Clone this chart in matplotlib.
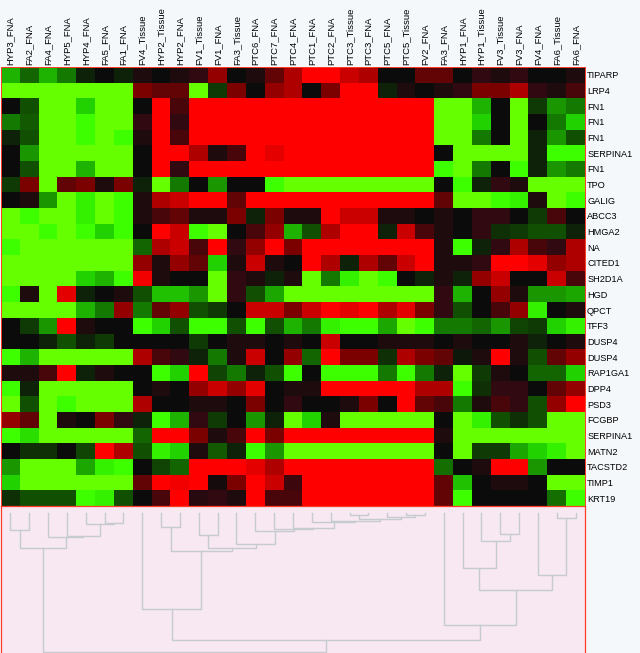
#!/usr/bin/env python3
"""Expression heatmap with the sample dendrogram below it"""

import matplotlib
matplotlib.use('Agg')
import matplotlib.pyplot as plt
from matplotlib.colors import LinearSegmentedColormap
import numpy as np

samples = ['HYP3_FNA', 'FA2_FNA', 'FA4_FNA', 'HYP5_FNA', 'HYP4_FNA', 'FA5_FNA', 'FA1_FNA',
           'FV4_Tissue', 'HYP2_Tissue', 'HYP2_FNA', 'FV1_Tissue', 'FV1_FNA', 'FA3_Tissue',
           'PTC6_FNA', 'PTC7_FNA', 'PTC4_FNA', 'PTC1_FNA', 'PTC2_FNA', 'PTC3_Tissue', 'PTC3_FNA',
           'PTC5_FNA', 'PTC5_Tissue', 'FV2_FNA', 'FA3_FNA', 'HYP1_FNA', 'HYP1_Tissue',
           'FV3_Tissue', 'FV3_FNA', 'FV4_FNA', 'FA6_Tissue', 'FA6_FNA']

genes = ['TIPARP', 'LRP4', 'FN1', 'FN1', 'FN1', 'SERPINA1', 'FN1', 'TPO', 'GALIG', 'ABCC3',
         'HMGA2', 'NA', 'CITED1', 'SH2D1A', 'HGD', 'QPCT', 'TFF3', 'DUSP4', 'DUSP4', 'RAP1GA1',
         'DPP4', 'PSD3', 'FCGBP', 'SERPINA1', 'MATN2', 'TACSTD2', 'TIMP1', 'KRT19']

# -10 = full green, 0 = black, 10 = full red
values = [
    [-7, -4, -7, -5, -1, 0, -1, 1, 0, 1, 2, 6, 0, 1, 4, 7, 10, 10, 8, 7, 0, 0, 4, 4, 0, 2, 1, 2, 0, 0, 1],
    [-10, -10, -10, -10, -10, -10, -10, 5, 4, 4, -10, -2, 5, 0, 6, 7, 0, 5, 10, 10, -1, 1, 0, 1, 2, 5, 5, 7, 2, 1, 3],
    [0, -3, -10, -10, -8, -10, -10, 0, 10, 3, 10, 10, 10, 10, 10, 10, 10, 10, 10, 10, 10, 10, 10, -10, -10, -7, 0, -10, -2, -6, -5],
    [-5, -3.5, -10, -10, -9.5, -10, -10, 2, 10, 2, 10, 10, 10, 10, 10, 10, 10, 10, 10, 10, 10, 10, 10, -10, -10, -8, 0, -10, 0, -5, -8],
    [-1, -3, -10, -10, -9.5, -10, -9.5, 1, 10, 3, 10, 10, 10, 10, 10, 10, 10, 10, 10, 10, 10, 10, 10, -10, -10, -5, 0, -10, -1, -6, -3],
    [0, -6, -10, -10, -10, -10, -10, 0, 10, 10, 7, 1, 3, 10, 9, 10, 10, 10, 10, 10, 10, 10, 10, 0, -10, -10, -10, -10, -1, -9.5, -9.5],
    [0, -3, -10, -10, -7, -10, -10, 0, 10, 2, 10, 10, 10, 10, 10, 10, 10, 10, 10, 10, 10, 10, 10, -9.5, -10, -5, 0, -9.5, -1, -6, -5],
    [-2, 5, -10, 4, 5, 1, 5, -1, -10, -5, 0, -6, 0, 0, -9.5, -10, -10, -10, -10, -10, -10, -10, -10, 0, -9.5, -1, 2, 1, -10, -10, -10],
    [0, 1, -6, -10, -9, -10, -9.5, 1, 7, 8, 10, 10, 4, 10, 10, 10, 10, 10, 10, 10, 10, 10, 10, 4, -10, -10, -9.5, -9, 1, -10, -9.5],
    [-10, -9.5, -10, -10, -9, -10, -9.5, 1, 3, 4, 1, 1, 5, -1, 5, 1, 1, 10, 8, 8, 1, 1, 0, 1, 0, 2, 2, 0, -2, 3, 0],
    [-10, -10, -9.5, -10, -9.5, -8, -9.5, 0, 10, 8, -9.5, -10, 0, 3, 6, -7, -3, 7, 10, 10, -1, 8, 3, 1, 0, 2, -1.5, -2, -3, -3, -1],
    [-9.5, -10, -10, -10, -10, -10, -10, -4, 7, 8, 3, 10, 2, 6, 10, 5, 10, 10, 10, 10, 10, 10, 10, 1, -9.5, -1, 2, 7, 3, 2, 7],
    [-10, -10, -10, -10, -10, -10, -10, 6, 1, 6, 4, -8, 1, 8, 1, 0, 10, 7, -1, 7, 4, 8, 10, 1, 1, 2, 10, 10, 9, 6, 7],
    [-10, -10, -10, -10, -8, -7, -9.5, 9.5, 1, 0, 0, -10, 2, 1, -1, 1, -10, -5, -9, -10, -9.5, 0, -1, 1, -1, 6, 8, 0, 0, 8, 3],
    [-9.5, 1, -10, 9, -1, 0, 1, -3, -7.5, -7.5, -6, -10, 2, -3, -6.5, -10, -10, -10, -10, -10, -10, -10, -10, 2, -7, 0, 6, 1, -6, -6, -6.5],
    [-10, -10, -10, -10, -7, -5, 6, -5, 4, 6, -3, -2, 0, 8, 8, 5, 8, 10, 9, 10, 7, 9, 5, 2, -3, 0, 3, 6, -9, 0, 1],
    [0, -2, -6, 10, 1, 0, 0, -9.5, -8, -3, -9.5, -9.5, -3, -9.5, -3, -7, -5, -9, -9.5, -9.5, -6.5, -10, -9.5, -5, -5, -4, -6, -2.5, -2, -8, -9],
    [0, 0, -1, -3, -1, -2, 0, 0, 0, 0, -2, 0, 1, 1, 0, 1, 0, 8, 0, 0, 1, 1, 1, 0, 1, 0, 0, 1, -1, 0, 1],
    [-9.5, -7, -10, -10, -10, -10, -10, 7, 3, 2, -1, -5, 1, 8, 0, 6, -4, 10, 5, 5, -1.5, 7, 5, 4, -0.5, 1, 10, 1, -3, 4, 6],
    [1, 1, 3, 10, -1, 1, 0, 0, -9.5, -8, 10, -2.5, -5, -1, -3, -9.5, 0, -9.5, -9.5, -9.5, -5, -9.5, -5, -1, -10, -2, 1, 0, -4, -4, -8],
    [-9.5, -1, -10, -10, -10, -10, -10, 0, 1, 0, 6, 8, 6, 9, 0, 1, 1, 10, 10, 10, 10, 10, 7, 7, -9.5, -1.5, 2, 2, 0, 4, 6],
    [-10, -3, -10, -9.5, -10, -10, -10, 7, 0, 0, 1, 1, 0, 5, 0, 2, 0, 0, 1, 5, 0, 10, 4, 3, -5, 1, 3, 2, -3, 6, 10],
    [6, 4, -10, 1, 0, 5, 2, -1, -9.5, -7, 2, -2, 0, -6, -1, -10, -8, 1, -10, -10, -10, -10, -10, 0, -10, -9, -3, -1.5, -3, -10, -10],
    [-9.5, -8.5, -10, -10, -10, -10, -10, -4, 10, 10, 5, 1, 3, 10, 5, 10, 10, 10, 10, 10, 10, 10, 10, 1, -10, -10, -10, -10, -10, -10, -10],
    [0, -1.5, -1.5, 0, -2.5, 10, 7, -3, -9, -8, 1, -3.5, -1, -9.5, -6, -10, -10, -10, -10, -10, -10, -10, -10, 0, -10, -2, -2, -6.5, -8, -9, -10],
    [-6, -10, -10, -10, -6.5, -9, -9.5, 0, -2.5, -4, 10, 10, 10, 9, 7, 10, 10, 10, 10, 10, 10, 10, 10, -4.5, 0, 1, 10, 10, -6, 0, 0],
    [-8, -10, -10, -10, -10, -10, -10, 4, 10, 9.5, 10, 0.5, 5, 10, 8, 2.5, 10, 10, 10, 10, 10, 10, 10, 4, -7.5, 0, 1, 1, 0, -10, -10],
    [-1.5, -3, -3, -3, -9.5, -9, -3, 0, 3, 10, 1.5, 2, 1, 10, 3, 3, 10, 10, 10, 10, 10, 10, 10, 4, -9.5, 0, 0, 0, 0, -4.5, -9.5],
]

# dendrogram merges: ids below 31 are samples, each merge gets the next id
merge_left = [0, 5, 4, 3, 2, 31, 8, 10, 18, 21, 20, 39, 17, 16, 15, 14, 13, 12, 38, 37, 7,
              26, 25, 24, 29, 28, 54, 23, 51, 36]
merge_right = [1, 6, 32, 33, 34, 35, 9, 11, 19, 22, 40, 41, 42, 43, 44, 45, 46, 47, 48, 49, 50,
               27, 52, 53, 30, 55, 56, 57, 58, 59]
merge_depth = [24, 17, 17.7, 30, 30.5, 42.3, 21.3, 29, 8.7, 9, 11.3, 13, 14.7, 15.7, 22, 23.3,
               24.7, 38.3, 42.3, 44.7, 103, 28.3, 35.3, 62.3, 12.3, 68.7, 84.3, 119.3, 134.3, 146.3]
LEAF_DEPTH = 7

W, H = 640, 653
BG = '#f5f8fb'
PINK = '#f7e8f2'
EDGE = '#ff3c28'
TREE = '#c6cbcf'

plt.rcParams['font.family'] = ['Liberation Sans', 'DejaVu Sans']

# greens hold almost no red until the very end of the scale
cmap = LinearSegmentedColormap.from_list('gbr', [
    (0.0, '#66ff00'),
    (0.025, '#3cff00'),
    (0.1, '#22d000'),
    (0.25, '#157a00'),
    (0.4, '#103a05'),
    (0.5, '#0c0c0c'),
    (0.6, '#300a10'),
    (0.75, '#7a0000'),
    (1.0, '#ff0000'),
])

fig = plt.figure(figsize=(W / 100, H / 100), dpi=100, facecolor=BG)


def px_axes(x0, y0, x1, y1):
    # axes from pixel box, y measured from the top
    return fig.add_axes([x0 / W, 1 - y1 / H, (x1 - x0) / W, (y1 - y0) / H])


# heatmap
ax = px_axes(1, 67, 585, 506)
ax.imshow(np.array(values), cmap=cmap, vmin=-10, vmax=10, aspect='auto', interpolation='nearest')
ax.xaxis.tick_top()
ax.set_xticks(range(len(samples)))
ax.set_xticklabels(samples, rotation=90, fontsize=6.8, color='#000000', ha='center', va='bottom')
ax.yaxis.tick_right()
ax.set_yticks(range(len(genes)))
ax.set_yticklabels(genes, fontsize=6.6, color='#000000')
ax.tick_params(length=0, pad=1.5)
for side in ax.spines.values():
    side.set_color(EDGE)
    side.set_linewidth(0.7)

# dendrogram
tree = px_axes(1, 506, 585, 653)
tree.set_facecolor(PINK)
tree.set_xlim(-0.5, len(samples) - 0.5)
tree.set_ylim(147, 0)
tree.set_xticks([])
tree.set_yticks([])
tree.spines['bottom'].set_visible(False)
for name in ['left', 'right', 'top']:
    tree.spines[name].set_color(EDGE)
    tree.spines[name].set_linewidth(0.9)

node_x = list(range(len(samples)))
node_y = [LEAF_DEPTH] * len(samples)
for left, right, depth in zip(merge_left, merge_right, merge_depth):
    xs = [node_x[left], node_x[left], node_x[right], node_x[right]]
    ys = [node_y[left], depth, depth, node_y[right]]
    tree.plot(xs, ys, color=TREE, lw=1.0, solid_joinstyle='miter', clip_on=False)
    node_x.append((node_x[left] + node_x[right]) / 2)
    node_y.append(depth)

fig.savefig('out.png', dpi=100, facecolor=BG)
